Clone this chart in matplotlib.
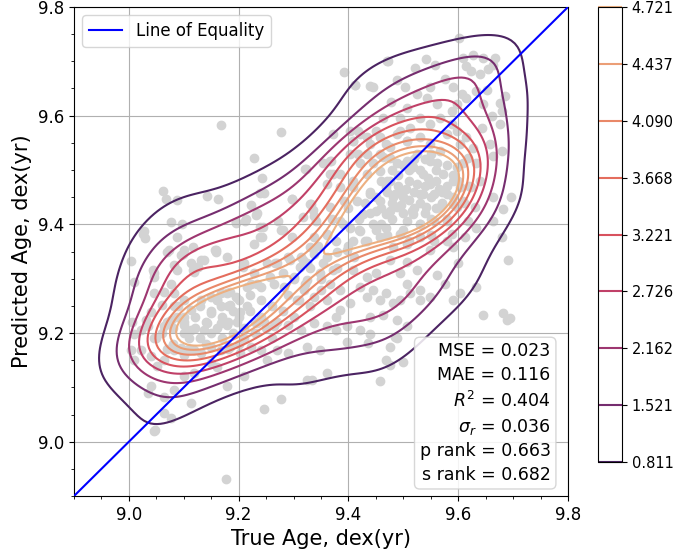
import numpy as np
import matplotlib
matplotlib.use('Agg')
import matplotlib.pyplot as plt
import seaborn as sns

# true / predicted ages (dex yr)
true_age = [
    9.167, 9.277, 9.227, 9.322, 9.242, 9.238, 9.247, 9.062, 9.068, 9.087, 9.143, 9.162, 9.297, 9.222, 9.332,
    9.232, 9.213, 9.195, 9.076, 9.097, 9.238, 9.028, 9.029, 9.088, 9.242, 9.277, 9.297, 9.227, 9.337, 9.341,
    9.337, 9.345, 9.073, 9.100, 9.158,
    9.601, 9.392, 9.412, 9.445, 9.471, 9.488, 9.503, 9.477, 9.521, 9.541, 9.558, 9.576, 9.548, 9.524, 9.543,
    9.561, 9.609, 9.627, 9.645, 9.667, 9.615, 9.624, 9.640, 9.655, 9.664, 9.591, 9.606, 9.597, 9.615, 9.633,
    9.652, 9.646, 9.661, 9.676, 9.685, 9.679, 9.676, 9.658, 9.643, 9.664, 9.679, 9.597, 9.615, 9.603, 9.627,
    9.618, 9.609, 9.597, 9.633, 9.664, 9.697, 9.682, 9.664, 9.679, 9.640, 9.624, 9.609, 9.597, 9.630, 9.618,
    9.633, 9.612, 9.579, 9.588, 9.530, 9.548, 9.567, 9.579, 9.588, 9.588, 9.506, 9.494, 9.512, 9.488, 9.530,
    9.506, 9.548, 9.567, 9.524, 9.548, 9.463, 9.451, 9.469, 9.439, 9.421, 9.457, 9.476, 9.445, 9.488, 9.506,
    9.372, 9.403, 9.409, 9.366, 9.385, 9.421, 9.409, 9.433, 9.457, 9.476,
    9.518, 9.536, 9.548, 9.561, 9.573, 9.591, 9.530, 9.555, 9.579, 9.518, 9.542, 9.567, 9.591, 9.603, 9.500,
    9.482, 9.488, 9.506, 9.530, 9.555,
    9.354, 9.372, 9.360, 9.385, 9.409, 9.391, 9.415, 9.366, 9.439, 9.457, 9.469, 9.427, 9.451, 9.469, 9.385,
    9.403, 9.421, 9.445, 9.469, 9.494, 9.360, 9.378, 9.409, 9.433, 9.457, 9.482, 9.506, 9.397,
    9.530, 9.555, 9.579, 9.591, 9.548,
    9.003, 9.009, 9.043, 9.046, 9.070, 9.094, 9.082, 9.113, 9.125, 9.119, 9.131, 9.158, 9.179,
    9.210, 9.228, 9.252, 9.267, 9.289, 9.313, 9.325, 9.337, 9.222, 9.240, 9.264, 9.283, 9.301, 9.325, 9.349,
    9.319, 9.337, 9.307, 9.046, 9.064, 9.076, 9.082, 9.100, 9.061, 9.082, 9.113, 9.131, 9.149, 9.167, 9.185,
    9.006, 9.009, 9.022, 9.031, 9.040, 9.034, 9.046, 9.064, 9.076, 9.088, 9.100, 9.113, 9.137, 9.149, 9.167,
    9.185, 9.203, 9.216, 9.100, 9.143, 9.167, 9.179, 9.197, 9.234, 9.246, 9.264, 9.289, 9.313, 9.337,
    9.003, 9.009, 9.022, 9.040, 9.052, 9.064, 9.082, 9.094, 9.106, 9.119, 9.131, 9.149, 9.167, 9.185, 9.203,
    9.222, 9.240, 9.252, 9.270, 9.289, 9.325, 9.349,
    9.040, 9.034, 9.064, 9.082, 9.100, 9.119, 9.149, 9.161, 9.179, 9.210, 9.325, 9.113, 9.064, 9.076, 9.046,
    9.246, 9.277, 9.177,
    9.691, 9.600, 9.561, 9.576, 9.633, 9.603, 9.591, 9.646, 9.681, 9.688, 9.694,
    9.506, 9.524, 9.494, 9.506, 9.530, 9.548, 9.512, 9.494, 9.530, 9.476,
    9.409, 9.433, 9.451, 9.421, 9.445, 9.469, 9.433, 9.457, 9.482, 9.403, 9.439, 9.463, 9.488, 9.506,
    9.354, 9.372, 9.366, 9.385, 9.360, 9.385, 9.360, 9.378, 9.397, 9.421, 9.439,
    9.436, 9.476, 9.488, 9.469, 9.476, 9.500, 9.360, 9.457,
    9.048, 9.333, 9.485, 9.397, 9.378, 9.026,
    9.099, 9.117, 9.136, 9.157, 9.124, 9.117, 9.087, 9.045,
    9.178, 9.196, 9.160, 9.215, 9.208, 9.233, 9.257, 9.269, 9.281, 9.294, 9.318, 9.330, 9.312,
    9.196, 9.211, 9.233, 9.239, 9.245, 9.272, 9.281, 9.297, 9.330, 9.318, 9.336,
    9.412, 9.439, 9.472, 9.369, 9.366, 9.321, 9.403, 9.418, 9.409, 9.433, 9.418, 9.433, 9.457, 9.463, 9.476,
    9.494, 9.506,
    # points hidden under the dense right core
    9.48, 9.50, 9.52, 9.54, 9.56, 9.49, 9.51, 9.53, 9.55, 9.57, 9.46, 9.47, 9.50, 9.52, 9.54,
    9.56, 9.58, 9.59, 9.53, 9.51, 9.49, 9.47, 9.45, 9.44, 9.46, 9.48, 9.50, 9.53, 9.55, 9.57,
    9.59, 9.60, 9.56, 9.54, 9.52, 9.50, 9.48, 9.46, 9.44, 9.43, 9.42, 9.45, 9.47, 9.51, 9.55,
    9.58, 9.61, 9.62, 9.58, 9.55, 9.51, 9.525, 9.535, 9.505, 9.545, 9.495, 9.565, 9.485, 9.515, 9.475,
    # points hidden under the dense left core
    9.10, 9.12, 9.14, 9.16, 9.18, 9.20, 9.22, 9.24, 9.26, 9.28, 9.08, 9.10, 9.13, 9.15, 9.17,
    9.19, 9.21, 9.23, 9.25, 9.27, 9.06, 9.07, 9.09, 9.11, 9.13, 9.16, 9.18, 9.20, 9.22, 9.24,
    9.29, 9.31, 9.12, 9.15, 9.17, 9.19, 9.21, 9.23, 9.11, 9.14, 9.05, 9.08, 9.26, 9.30, 9.33,
    9.35, 9.18, 9.20, 9.10, 9.07,
    # along the diagonal between the two cores
    9.33, 9.36, 9.38, 9.40, 9.35, 9.38, 9.41, 9.43, 9.30, 9.32, 9.36, 9.39, 9.42, 9.40, 9.37,
]
pred_age = [
    9.583, 9.570, 9.522, 9.501, 9.485, 9.457, 9.457, 9.461, 9.446, 9.445, 9.453, 9.446, 9.447, 9.435, 9.437,
    9.418, 9.409, 9.402, 9.404, 9.401, 9.395, 9.387, 9.375, 9.376, 9.377, 9.390, 9.377, 9.363, 9.416, 9.407,
    9.376, 9.361, 9.352, 9.352, 9.352,
    9.743, 9.681, 9.656, 9.653, 9.700, 9.665, 9.652, 9.625, 9.687, 9.705, 9.694, 9.668, 9.652, 9.640, 9.633,
    9.621, 9.706, 9.712, 9.706, 9.706, 9.691, 9.682, 9.676, 9.685, 9.694, 9.652, 9.639, 9.621, 9.633, 9.645,
    9.648, 9.621, 9.599, 9.624, 9.636, 9.609, 9.584, 9.547, 9.578, 9.526, 9.535, 9.572, 9.560, 9.547, 9.541,
    9.523, 9.512, 9.506, 9.512, 9.450, 9.451, 9.428, 9.407, 9.376, 9.480, 9.468, 9.443, 9.431, 9.431, 9.407,
    9.394, 9.376, 9.407, 9.382, 9.596, 9.584, 9.596, 9.566, 9.609, 9.584, 9.615, 9.596, 9.578, 9.566, 9.560,
    9.554, 9.547, 9.535, 9.529, 9.517, 9.596, 9.572, 9.547, 9.547, 9.566, 9.529, 9.523, 9.512, 9.512, 9.517,
    9.566, 9.529, 9.554, 9.517, 9.492, 9.512, 9.480, 9.492, 9.498, 9.480,
    9.506, 9.492, 9.474, 9.512, 9.492, 9.480, 9.456, 9.456, 9.456, 9.419, 9.431, 9.431, 9.437, 9.468, 9.462,
    9.450, 9.431, 9.407, 9.401, 9.407,
    9.512, 9.492, 9.474, 9.468, 9.468, 9.443, 9.443, 9.431, 9.456, 9.443, 9.468, 9.419, 9.425, 9.419, 9.407,
    9.394, 9.388, 9.401, 9.394, 9.382, 9.382, 9.370, 9.370, 9.370, 9.376, 9.358, 9.364, 9.352,
    9.376, 9.370, 9.370, 9.358, 9.352,
    9.333, 9.294, 9.316, 9.303, 9.349, 9.343, 9.325, 9.328, 9.322, 9.312, 9.334, 9.349, 9.340,
    9.328, 9.310, 9.328, 9.328, 9.340, 9.340, 9.328, 9.346, 9.291, 9.285, 9.291, 9.285, 9.303, 9.297, 9.310,
    9.279, 9.267, 9.261, 9.273, 9.276, 9.291, 9.273, 9.261, 9.252, 9.249, 9.243, 9.261, 9.267, 9.273, 9.276,
    9.221, 9.199, 9.206, 9.224, 9.239, 9.212, 9.190, 9.212, 9.224, 9.230, 9.215, 9.206, 9.206, 9.236, 9.249,
    9.252, 9.239, 9.249, 9.221, 9.218, 9.218, 9.215, 9.221, 9.218, 9.221, 9.212, 9.215, 9.206, 9.218,
    9.169, 9.150, 9.169, 9.157, 9.139, 9.150, 9.169, 9.172, 9.169, 9.169, 9.163, 9.175, 9.169, 9.175, 9.163,
    9.175, 9.169, 9.150, 9.169, 9.163, 9.175, 9.169,
    9.102, 9.089, 9.083, 9.095, 9.120, 9.126, 9.144, 9.138, 9.102, 9.120, 9.114, 9.071, 9.053, 9.043, 9.019,
    9.060, 9.078, 8.932,
    9.334, 9.328, 9.306, 9.291, 9.285, 9.273, 9.261, 9.233, 9.236, 9.224, 9.227,
    9.331, 9.316, 9.310, 9.291, 9.279, 9.267, 9.273, 9.261, 9.261, 9.334,
    9.316, 9.303, 9.310, 9.285, 9.279, 9.273, 9.267, 9.261, 9.255, 9.255, 9.230, 9.233, 9.224, 9.212,
    9.328, 9.316, 9.291, 9.279, 9.261, 9.243, 9.212, 9.230, 9.212, 9.206, 9.199,
    9.181, 9.175, 9.190, 9.150, 9.141, 9.147, 9.126, 9.111,
    9.021, 9.114, 9.193, 9.184, 9.206, 9.383,
    9.346, 9.358, 9.334, 9.352, 9.322, 9.316, 9.316, 9.310,
    9.273, 9.267, 9.261, 9.285, 9.322, 9.291, 9.303, 9.328, 9.310, 9.334, 9.334, 9.358, 9.322,
    9.404, 9.407, 9.420, 9.377, 9.395, 9.407, 9.389, 9.447, 9.438, 9.414, 9.426,
    9.657, 9.654, 9.700, 9.517, 9.493, 9.502, 9.572, 9.572, 9.554, 9.560, 9.530, 9.530, 9.560, 9.524, 9.542,
    9.572, 9.554,
    9.44, 9.45, 9.46, 9.47, 9.48, 9.47, 9.48, 9.44, 9.45, 9.46, 9.43, 9.46, 9.42, 9.43, 9.42,
    9.43, 9.47, 9.49, 9.50, 9.50, 9.49, 9.48, 9.45, 9.42, 9.40, 9.41, 9.39, 9.40, 9.41, 9.44,
    9.45, 9.48, 9.50, 9.52, 9.52, 9.51, 9.50, 9.48, 9.46, 9.44, 9.41, 9.39, 9.38, 9.37, 9.38,
    9.41, 9.44, 9.47, 9.51, 9.53, 9.445, 9.475, 9.455, 9.465, 9.485, 9.435, 9.465, 9.455, 9.425, 9.425,
    9.20, 9.21, 9.22, 9.21, 9.22, 9.23, 9.24, 9.23, 9.25, 9.24, 9.18, 9.23, 9.19, 9.24, 9.19,
    9.20, 9.21, 9.20, 9.21, 9.22, 9.20, 9.22, 9.25, 9.17, 9.25, 9.26, 9.25, 9.26, 9.27, 9.26,
    9.27, 9.26, 9.23, 9.20, 9.23, 9.24, 9.19, 9.22, 9.19, 9.18, 9.19, 9.21, 9.19, 9.23, 9.25,
    9.28, 9.17, 9.18, 9.16, 9.17,
    9.32, 9.34, 9.35, 9.36, 9.30, 9.32, 9.34, 9.37, 9.30, 9.29, 9.38, 9.40, 9.39, 9.43, 9.41,
]

# contour levels shown on the colour bar
levels = [0.811, 1.521, 2.162, 2.726, 3.221, 3.668, 4.090, 4.437, 4.721]

stats = ['MSE = 0.023', 'MAE = 0.116', r'$R^2$ = 0.404', r'$\sigma_r$ = 0.036',
         'p rank = 0.663', 's rank = 0.682']

x = np.array(true_age)
y = np.array(pred_age)

# gaussian kde, scott bandwidth
xy = np.vstack([x, y])
n = xy.shape[1]
cov = np.cov(xy) * n ** (-2 / 6)
inv = np.linalg.inv(cov)
gx, gy = np.meshgrid(np.linspace(8.6, 10.1, 250), np.linspace(8.6, 10.1, 250))
z = np.zeros_like(gx)
for px, py in zip(x, y):
    dx = gx - px
    dy = gy - py
    z += np.exp(-0.5 * (inv[0, 0] * dx * dx + 2 * inv[0, 1] * dx * dy + inv[1, 1] * dy * dy))
z /= n * 2 * np.pi * np.sqrt(np.linalg.det(cov))
print(len(true_age), len(pred_age), 'max density', z.max())

fig = plt.figure(figsize=(6.86, 5.51), dpi=100)
ax = fig.add_axes([0.1079, 0.0998, 0.7201, 0.8875])
cax = fig.add_axes([0.8717, 0.1615, 0.035, 0.8258])

ax.scatter(x, y, color='lightgray', s=36, zorder=1)
cmap = sns.color_palette('flare_r', as_cmap=True)
cs = ax.contour(gx, gy, z, levels=levels, cmap=cmap, linewidths=1.5, zorder=2)
ax.plot([8.9, 9.8], [8.9, 9.8], color='blue', lw=1.5, label='Line of Equality', zorder=3)

ax.set_xlim(8.9, 9.8)
ax.set_ylim(8.9, 9.8)
ax.set_xticks([9.0, 9.2, 9.4, 9.6, 9.8])
ax.set_yticks([9.0, 9.2, 9.4, 9.6, 9.8])
ax.minorticks_on()
ax.grid(True, which='major', color='#b0b0b0')
ax.tick_params(labelsize=12)
ax.set_xlabel('True Age, dex(yr)', fontsize=15)
ax.set_ylabel('Predicted Age, dex(yr)', fontsize=15)
ax.legend(loc='upper left', fontsize=12)

ax.text(0.965, 0.025, '\n'.join(stats), transform=ax.transAxes, ha='right', va='bottom',
        fontsize=12.5, multialignment='right', linespacing=1.4, zorder=5,
        bbox=dict(boxstyle='round,pad=0.3', facecolor='white', edgecolor='#d0d0d0', alpha=0.85))

cb = fig.colorbar(cs, cax=cax, format='%.3f')
cb.ax.tick_params(labelsize=10.5)

fig.savefig('out.png', dpi=100)
